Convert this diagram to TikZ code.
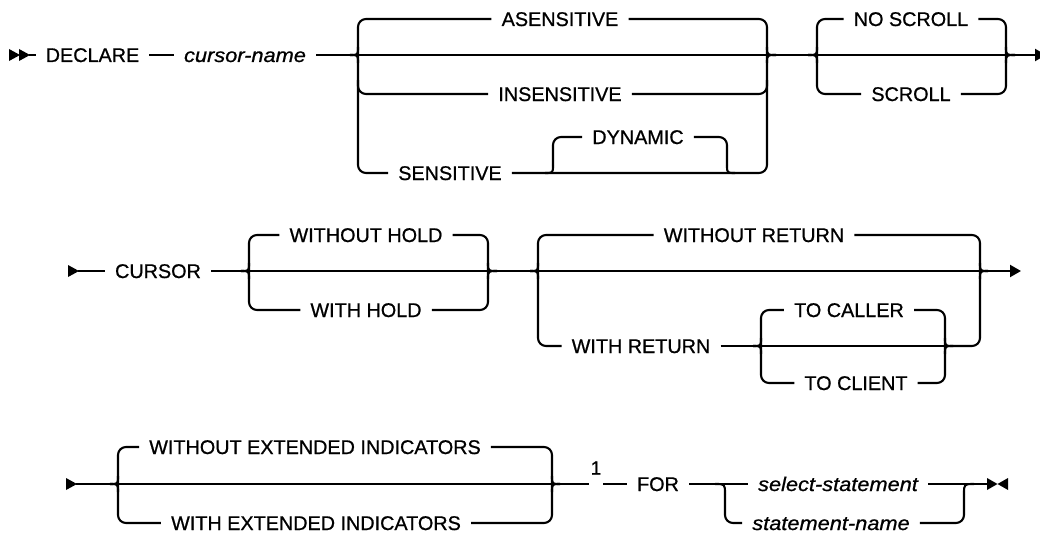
\documentclass[tikz,border=0pt]{standalone}
\usepackage{fontspec}
\setmainfont{Liberation Sans}[FakeBold=0.8]
\newfontfamily\itf{Liberation Sans}[FakeStretch=1.1,FakeBold=0.8]
\usetikzlibrary{arrows.meta}
\tikzset{
  rr/.style={line width=2.1pt, line cap=butt, line join=round},
  rc/.style={rr, rounded corners=8pt},
  kw/.style={font=\fontsize{19.8}{22}\selectfont, text height=15pt, text depth=1pt, inner xsep=10pt, inner ysep=0pt},
  var/.style={kw, font=\fontsize{19.8}{22}\selectfont\itf\itshape},
  endtip/.style={rr, -{Triangle[length=11pt,width=12pt]}},
}
\begin{document}
\begin{tikzpicture}[x=1pt,y=-1pt]
\useasboundingbox (0,0) rectangle (1040,535);
% ---------------- row 1 ----------------
\fill (9,49) -- (20,55) -- (9,61) -- cycle;
\fill (19,49) -- (30,55) -- (19,61) -- cycle;
\coordinate (s1) at (29,55);
\node[kw]  (decl) at (92.5,55) {DECLARE};
\node[var] (cn)   at (245,55) {cursor-name};
\draw[rr] (s1) -- (decl.west);
\draw[rr] (decl.east) -- (cn.west);
\coordinate (j1) at (350,55);
\coordinate (j2) at (776,55);
\draw[rr] (cn.east) -- (j1) -- (j2);
\node[kw] (as)  at (560,19)  {ASENSITIVE};
\node[kw] (ins) at (560,94)  {INSENSITIVE};
\node[kw] (sen) at (450,173) {SENSITIVE};
\node[kw] (dyn) at (638,137) {DYNAMIC};
% left brace
\draw[rc] (as.west) -- (358,19) -- (358,173) -- (sen.west);
\draw[rc] (358,80) -- (358,94) -- (ins.west);
\draw[rr] (j1) .. controls (358,55) .. (358,47);
\draw[rr] (j1) .. controls (358,55) .. (358,63);
% right brace
\draw[rc] (sen.east) -- (767,173) -- (767,19) -- (as.east);
\draw[rc] (ins.east) -- (767,94) -- (767,80);
\draw[rr] (j2) .. controls (767,55) .. (767,47);
\draw[rr] (j2) .. controls (767,55) .. (767,63);
% dynamic
\draw[rr] (545,173) .. controls (553,173) .. (553,165);
\draw[rc] (553,165) -- (553,137) -- (dyn.west);
\draw[rc] (dyn.east) -- (727,137) -- (727,165);
\draw[rr] (727,165) .. controls (727,173) .. (735,173);
% scroll
\coordinate (j3) at (808,55);
\coordinate (j4) at (1015,55);
\coordinate (e1) at (1046,55);
\node[kw] (ns) at (911,19) {NO SCROLL};
\node[kw] (sc) at (911,94) {SCROLL};
\draw[rr] (j2) -- (j3) -- (j4);
\draw[rc] (ns.west) -- (817,19) -- (817,94) -- (sc.west);
\draw[rr] (j3) .. controls (817,55) .. (817,47);
\draw[rr] (j3) .. controls (817,55) .. (817,63);
\draw[rc] (ns.east) -- (1006,19) -- (1006,94) -- (sc.east);
\draw[rr] (j4) .. controls (1006,55) .. (1006,47);
\draw[rr] (j4) .. controls (1006,55) .. (1006,63);
\draw[endtip] (j4) -- (e1);
% ---------------- row 2 ----------------
\fill (68,265) -- (79,271) -- (68,277) -- cycle;
\coordinate (s2) at (78,271);
\node[kw] (cur) at (158,271) {CURSOR};
\draw[rr] (s2) -- (cur.west);
\coordinate (j5) at (241,271);
\coordinate (j6) at (497,271);
\node[kw] (woh) at (366,235) {WITHOUT HOLD};
\node[kw] (wh)  at (366,310) {WITH HOLD};
\draw[rr] (cur.east) -- (j5) -- (j6);
\draw[rc] (woh.west) -- (249,235) -- (249,310) -- (wh.west);
\draw[rr] (j5) .. controls (249,271) .. (249,263);
\draw[rr] (j5) .. controls (249,271) .. (249,279);
\draw[rc] (woh.east) -- (488,235) -- (488,310) -- (wh.east);
\draw[rr] (j6) .. controls (488,271) .. (488,263);
\draw[rr] (j6) .. controls (488,271) .. (488,279);
\coordinate (j7) at (530,271);
\coordinate (j8) at (988,271);
\coordinate (e2) at (1021,271);
\node[kw] (wor) at (754,235) {WITHOUT RETURN};
\node[kw] (wr)  at (641,346) {WITH RETURN};
\draw[rr] (j6) -- (j7) -- (j8);
\draw[rc] (wor.west) -- (538,235) -- (538,346) -- (wr.west);
\draw[rr] (j7) .. controls (538,271) .. (538,263);
\draw[rr] (j7) .. controls (538,271) .. (538,279);
\coordinate (j9)  at (753,346);
\coordinate (j10) at (953,346);
\node[kw] (tca) at (849,310) {TO CALLER};
\node[kw] (tcl) at (856,383) {TO CLIENT};
\draw[rr] (wr.east) -- (j9) -- (j10);
\draw[rc] (tca.west) -- (761,310) -- (761,383) -- (tcl.west);
\draw[rr] (j9) .. controls (761,346) .. (761,338);
\draw[rr] (j9) .. controls (761,346) .. (761,354);
\draw[rc] (tca.east) -- (945,310) -- (945,383) -- (tcl.east);
\draw[rr] (j10) .. controls (945,346) .. (945,338);
\draw[rr] (j10) .. controls (945,346) .. (945,354);
\draw[rc] (j10) -- (980,346) -- (980,235) -- (wor.east);
\draw[rr] (j8) .. controls (980,271) .. (980,263);
\draw[rr] (j8) .. controls (980,271) .. (980,279);
\draw[endtip] (j8) -- (e2);
% ---------------- row 3 ----------------
\fill (66,478) -- (77,484) -- (66,490) -- cycle;
\coordinate (s3) at (76,484);
\coordinate (j11) at (110,484);
\coordinate (j12) at (560,484);
\node[kw] (woei) at (315,447) {WITHOUT EXTENDED INDICATORS};
\node[kw] (wei)  at (316,523) {WITH EXTENDED INDICATORS};
\draw[rr] (s3) -- (j11) -- (j12);
\draw[rc] (woei.west) -- (118,447) -- (118,523) -- (wei.west);
\draw[rr] (j11) .. controls (118,484) .. (118,476);
\draw[rr] (j11) .. controls (118,484) .. (118,492);
\draw[rc] (woei.east) -- (552,447) -- (552,523) -- (wei.east);
\draw[rr] (j12) .. controls (552,484) .. (552,476);
\draw[rr] (j12) .. controls (552,484) .. (552,492);
\node[font=\fontsize{19}{20}\selectfont, inner sep=0pt] (one) at (596,468) {1};
\coordinate (oa) at (589,484);
\coordinate (ob) at (603,484);
\node[kw] (for) at (658,484) {FOR};
\draw[rr] (j12) -- (oa);
\draw[rr] (ob) -- (for.west);
\coordinate (j13) at (715,484);
\coordinate (j14) at (974,484);
\node[var] (ss) at (838,484) {select-statement};
\node[var] (sn) at (831,523) {statement-name};
\draw[rr] (for.east) -- (ss.west);
\draw[rr] (j13) .. controls (725,484) .. (725,494);
\draw[rc] (725,494) -- (725,523) -- (sn.west);
\draw[rc] (sn.east) -- (964,523) -- (964,494);
\draw[rr] (964,494) .. controls (964,484) .. (j14);
\coordinate (e3) at (988,484);
\draw[rr] (ss.east) -- (e3);
\fill (987,478) -- (997.5,484) -- (987,490) -- cycle;
\fill (1008,478) -- (997.5,484) -- (1008,490) -- cycle;
\end{tikzpicture}
\end{document}
